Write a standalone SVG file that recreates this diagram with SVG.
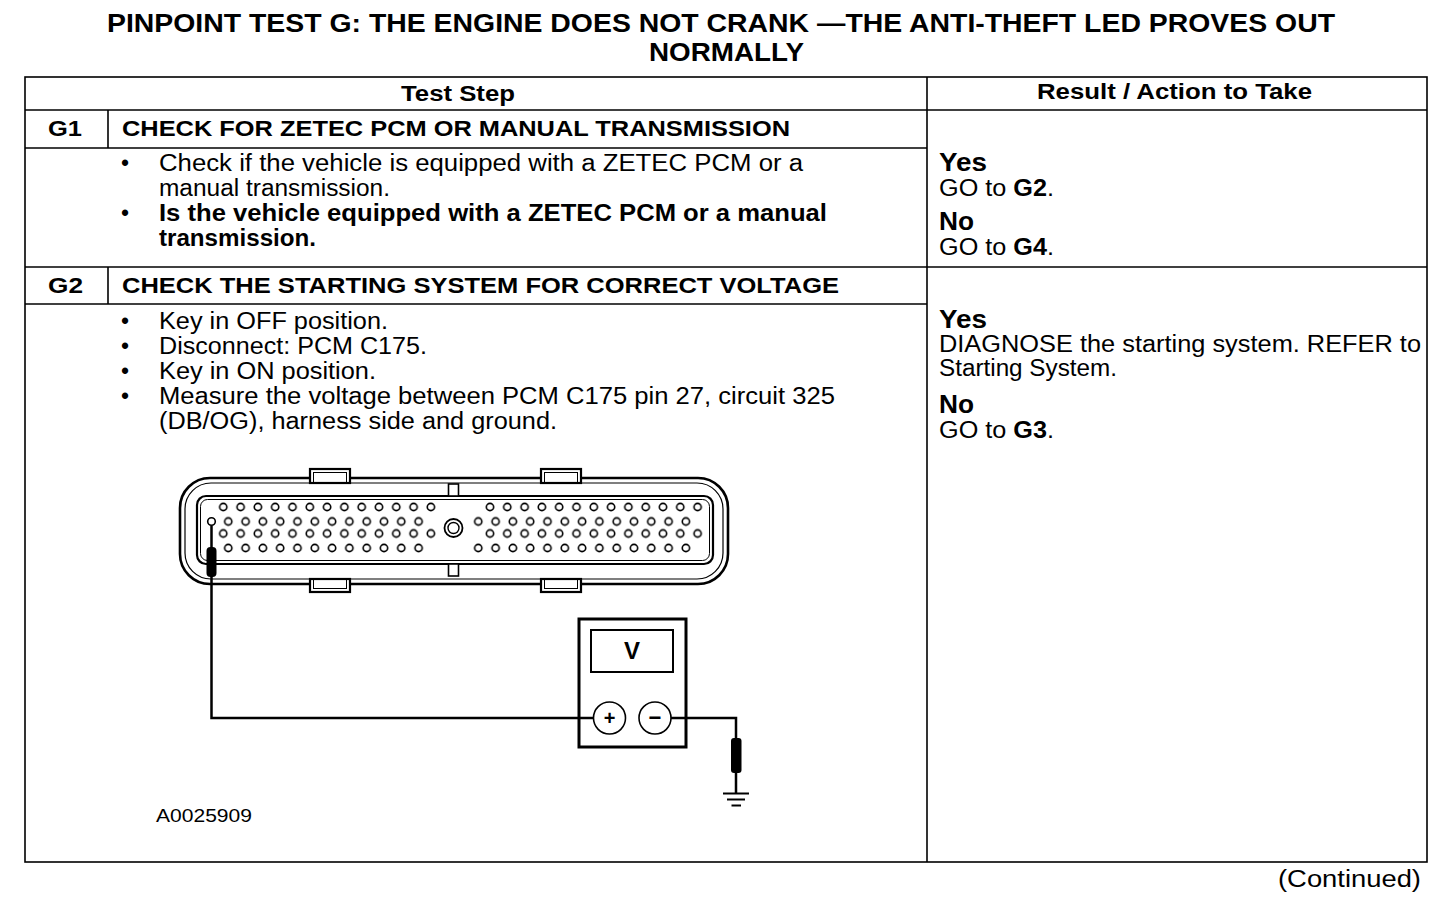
<svg xmlns="http://www.w3.org/2000/svg" width="1456" height="902" viewBox="0 0 1456 902">
<style>
text{font-family:"Liberation Sans",Arial,Helvetica,sans-serif;fill:#000}
.ttl{font-size:25px;font-weight:bold}
.hd{font-size:22px;font-weight:bold}
.bd{font-size:23px}
.bb{font-size:23px;font-weight:bold}
.yn{font-size:25px;font-weight:bold}
.b{font-weight:bold}
.ln{stroke:#000;stroke-width:1.6;fill:none}
.sh{fill:none;stroke:#000}
.wr{fill:none;stroke:#000;stroke-width:2.5}
</style>
<defs>
<pattern id="pins" width="17.3" height="16" patternUnits="userSpaceOnUse">
<circle cx="8.65" cy="8" r="3.6" fill="#fff" stroke="#000" stroke-width="1.6"/>
</pattern>
</defs>
<rect width="1456" height="902" fill="#fff"/>

<g id="title">
<text class="ttl" x="107" y="32" textLength="1228" lengthAdjust="spacingAndGlyphs">PINPOINT TEST G: THE ENGINE DOES NOT CRANK —THE ANTI-THEFT LED PROVES OUT</text>
<text class="ttl" x="649" y="61" textLength="155" lengthAdjust="spacingAndGlyphs">NORMALLY</text>
</g>

<g id="table">
<rect class="ln" x="25" y="77" width="1402" height="785"/>
<line class="ln" x1="927" y1="77" x2="927" y2="862"/>
<line class="ln" x1="25" y1="110" x2="1427" y2="110"/>
<line class="ln" x1="25" y1="148" x2="927" y2="148"/>
<line class="ln" x1="108" y1="110" x2="108" y2="148"/>
<line class="ln" x1="25" y1="267" x2="1427" y2="267"/>
<line class="ln" x1="25" y1="304" x2="927" y2="304"/>
<line class="ln" x1="108" y1="267" x2="108" y2="304"/>
<text class="hd" x="401" y="101" textLength="114" lengthAdjust="spacingAndGlyphs">Test Step</text>
<text class="hd" x="1037" y="99" textLength="275" lengthAdjust="spacingAndGlyphs">Result / Action to Take</text>
</g>

<g id="step-g1">
<text class="hd" x="48" y="136" textLength="34" lengthAdjust="spacingAndGlyphs">G1</text>
<text class="hd" x="122" y="136" textLength="668" lengthAdjust="spacingAndGlyphs">CHECK FOR ZETEC PCM OR MANUAL TRANSMISSION</text>
<text class="bd" x="121" y="171">•</text>
<text class="bd" x="159" y="171" textLength="644" lengthAdjust="spacingAndGlyphs">Check if the vehicle is equipped with a ZETEC PCM or a</text>
<text class="bd" x="159" y="196" textLength="231" lengthAdjust="spacingAndGlyphs">manual transmission.</text>
<text class="bd" x="121" y="221">•</text>
<text class="bb" x="159" y="221" textLength="668" lengthAdjust="spacingAndGlyphs">Is the vehicle equipped with a ZETEC PCM or a manual</text>
<text class="bb" x="159" y="246" textLength="157" lengthAdjust="spacingAndGlyphs">transmission.</text>
</g>

<g id="result-g1">
<text class="yn" x="939" y="171" textLength="48" lengthAdjust="spacingAndGlyphs">Yes</text>
<text class="bd" x="939" y="196" textLength="115" lengthAdjust="spacingAndGlyphs">GO to <tspan class="b">G2</tspan>.</text>
<text class="yn" x="939" y="230" textLength="35" lengthAdjust="spacingAndGlyphs">No</text>
<text class="bd" x="939" y="255" textLength="115" lengthAdjust="spacingAndGlyphs">GO to <tspan class="b">G4</tspan>.</text>
</g>

<g id="step-g2">
<text class="hd" x="48" y="293" textLength="35" lengthAdjust="spacingAndGlyphs">G2</text>
<text class="hd" x="122" y="293" textLength="717" lengthAdjust="spacingAndGlyphs">CHECK THE STARTING SYSTEM FOR CORRECT VOLTAGE</text>
<text class="bd" x="121" y="329">•</text>
<text class="bd" x="159" y="329" textLength="229" lengthAdjust="spacingAndGlyphs">Key in OFF position.</text>
<text class="bd" x="121" y="354">•</text>
<text class="bd" x="159" y="354" textLength="268" lengthAdjust="spacingAndGlyphs">Disconnect: PCM C175.</text>
<text class="bd" x="121" y="379">•</text>
<text class="bd" x="159" y="379" textLength="217" lengthAdjust="spacingAndGlyphs">Key in ON position.</text>
<text class="bd" x="121" y="404">•</text>
<text class="bd" x="159" y="404" textLength="676" lengthAdjust="spacingAndGlyphs">Measure the voltage between PCM C175 pin 27, circuit 325</text>
<text class="bd" x="159" y="429" textLength="398" lengthAdjust="spacingAndGlyphs">(DB/OG), harness side and ground.</text>
</g>

<g id="result-g2">
<text class="yn" x="939" y="328" textLength="48" lengthAdjust="spacingAndGlyphs">Yes</text>
<text class="bd" x="939" y="352" textLength="482" lengthAdjust="spacingAndGlyphs">DIAGNOSE the starting system. REFER to</text>
<text class="bd" x="939" y="376" textLength="178" lengthAdjust="spacingAndGlyphs">Starting System.</text>
<text class="yn" x="939" y="413" textLength="35" lengthAdjust="spacingAndGlyphs">No</text>
<text class="bd" x="939" y="438" textLength="115" lengthAdjust="spacingAndGlyphs">GO to <tspan class="b">G3</tspan>.</text>
</g>

<g id="pcm-connector">
<rect class="sh" x="180" y="478" width="548" height="106" rx="30" stroke-width="2.6"/>
<rect class="sh" x="185" y="483" width="538" height="96" rx="26" stroke-width="1.2"/>
<rect class="sh" x="197" y="496" width="516" height="68" rx="9" stroke-width="2.2"/>
<rect class="sh" x="200.5" y="499.5" width="509" height="61" rx="7" stroke-width="1"/>
<rect x="310" y="469" width="40" height="14" fill="#fff" stroke="#000" stroke-width="2.2"/>
<rect class="sh" x="313.5" y="472.5" width="33" height="10" stroke-width="1"/>
<rect x="541" y="469" width="40" height="14" fill="#fff" stroke="#000" stroke-width="2.2"/>
<rect class="sh" x="544.5" y="472.5" width="33" height="10" stroke-width="1"/>
<rect x="310" y="579" width="40" height="13" fill="#fff" stroke="#000" stroke-width="2.2"/>
<rect class="sh" x="313.5" y="579" width="33" height="9.5" stroke-width="1"/>
<rect x="541" y="579" width="40" height="13" fill="#fff" stroke="#000" stroke-width="2.2"/>
<rect class="sh" x="544.5" y="579" width="33" height="9.5" stroke-width="1"/>
<rect x="448.5" y="484" width="10" height="12" fill="#fff" stroke="#000" stroke-width="1.6"/>
<rect x="448.5" y="564" width="10" height="12" fill="#fff" stroke="#000" stroke-width="1.6"/>
<circle cx="453.5" cy="528" r="9" fill="#fff" stroke="#000" stroke-width="1.8"/>
<circle cx="453.5" cy="528" r="5.5" fill="none" stroke="#000" stroke-width="1.4"/>
<rect transform="translate(214.65,499)" width="224.9" height="16" fill="url(#pins)"/>
<rect transform="translate(214.65,525.5)" width="224.9" height="16" fill="url(#pins)"/>
<rect transform="translate(219.65,513.5)" width="207.6" height="16" fill="url(#pins)"/>
<rect transform="translate(219.65,540)" width="207.6" height="16" fill="url(#pins)"/>
<rect transform="translate(481.35,499)" width="224.9" height="16" fill="url(#pins)"/>
<rect transform="translate(481.35,525.5)" width="224.9" height="16" fill="url(#pins)"/>
<rect transform="translate(469.65,513.5)" width="224.9" height="16" fill="url(#pins)"/>
<rect transform="translate(469.65,540)" width="224.9" height="16" fill="url(#pins)"/>
<circle cx="211.5" cy="521.5" r="3.8" fill="#fff" stroke="#000" stroke-width="1.6"/>
</g>

<g id="meter">
<rect x="579" y="619" width="107" height="128" fill="#fff" stroke="#000" stroke-width="3"/>
<rect x="591" y="630" width="82" height="42" fill="none" stroke="#000" stroke-width="2"/>
<text x="632" y="659" font-size="24" font-weight="bold" text-anchor="middle">V</text>
<circle cx="609.5" cy="718" r="16" fill="#fff" stroke="#000" stroke-width="1.6"/>
<circle cx="655" cy="718" r="16" fill="#fff" stroke="#000" stroke-width="1.6"/>
<text x="609.5" y="725" font-size="20" font-weight="bold" text-anchor="middle">+</text>
<text x="655" y="725" font-size="22" font-weight="bold" text-anchor="middle">−</text>
</g>

<g id="connectors">
<path class="wr" d="M211.5 525.5 V718 H593.5"/>
<path class="wr" d="M671 718 H736 V793"/>
<rect x="206.5" y="547" width="10" height="30" rx="4" fill="#000"/>
<rect x="731" y="738" width="10.5" height="35" rx="3" fill="#000"/>
</g>

<g id="ground">
<line x1="723" y1="793.5" x2="749" y2="793.5" stroke="#000" stroke-width="2"/>
<line x1="727" y1="799.5" x2="745" y2="799.5" stroke="#000" stroke-width="2"/>
<line x1="731.5" y1="805.5" x2="741" y2="805.5" stroke="#000" stroke-width="2"/>
</g>

<g id="labels">
<text x="156" y="822" font-size="18" textLength="96" lengthAdjust="spacingAndGlyphs">A0025909</text>
<text class="bd" x="1278" y="887" textLength="143" lengthAdjust="spacingAndGlyphs">(Continued)</text>
</g>
</svg>
